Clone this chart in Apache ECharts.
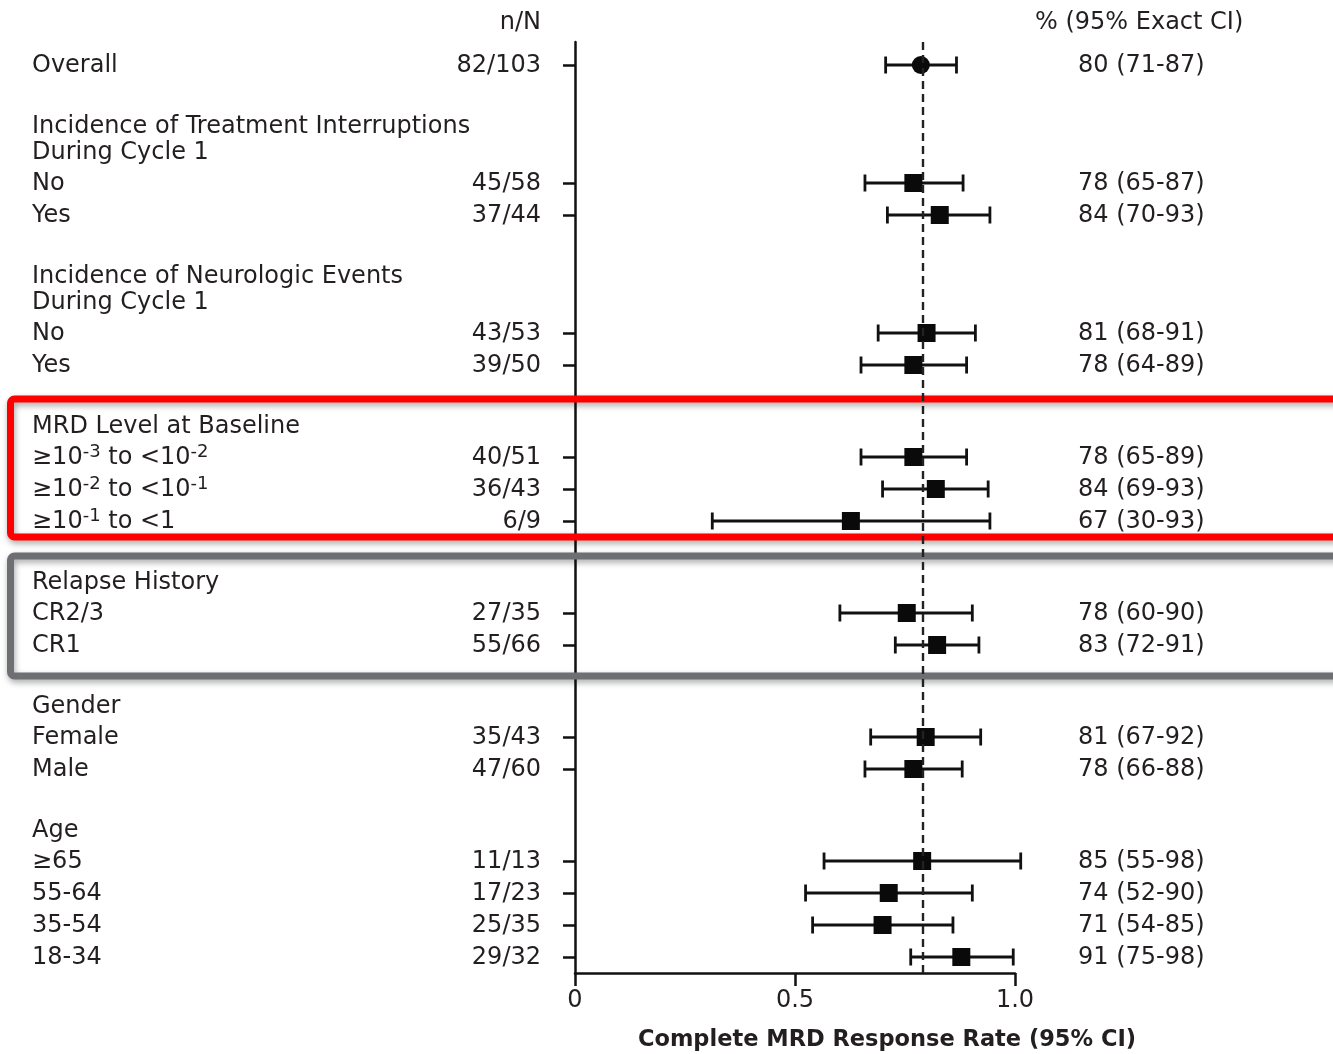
<!DOCTYPE html>
<html>
<head>
<meta charset="utf-8">
<script src="https://cdn.jsdelivr.net/npm/echarts@6/dist/echarts.min.js"></script>
<style>
  html, body { margin: 0; background: #fff; }
  #chart { width: 1333px; height: 1054px; }
</style>
</head>
<body>
<div id="chart"></div>
<script>
// group titles, one entry per group (the overall row has none)
const groupTitles = [
  [],
  ['Incidence of Treatment Interruptions', 'During Cycle 1'],
  ['Incidence of Neurologic Events', 'During Cycle 1'],
  ['MRD Level at Baseline'],
  ['Relapse History'],
  ['Gender'],
  ['Age']
];
const groupSizes = [1, 2, 2, 3, 2, 2, 4];

// "^" marks a superscript
const rowLabels = ['Overall', 'No', 'Yes', 'No', 'Yes',
  '≥10^-3 to <10^-2', '≥10^-2 to <10^-1', '≥10^-1 to <1',
  'CR2/3', 'CR1', 'Female', 'Male', '≥65', '55-64', '35-54', '18-34'];
const nOverN = ['82/103', '45/58', '37/44', '43/53', '39/50', '40/51', '36/43', '6/9',
  '27/35', '55/66', '35/43', '47/60', '11/13', '17/23', '25/35', '29/32'];
const pctCI = ['80 (71-87)', '78 (65-87)', '84 (70-93)', '81 (68-91)', '78 (64-89)',
  '78 (65-89)', '84 (69-93)', '67 (30-93)', '78 (60-90)', '83 (72-91)',
  '81 (67-92)', '78 (66-88)', '85 (55-98)', '74 (52-90)', '71 (54-85)', '91 (75-98)'];

// rates and interval ends as they are plotted in the figure
const rate   = [0.786, 0.769, 0.829, 0.799, 0.769, 0.769, 0.820, 0.627,
                0.754, 0.823, 0.797, 0.769, 0.789, 0.713, 0.699, 0.878];
const ciLow  = [0.706, 0.659, 0.710, 0.689, 0.650, 0.650, 0.699, 0.312,
                0.602, 0.728, 0.672, 0.659, 0.566, 0.524, 0.540, 0.763];
const ciHigh = [0.867, 0.882, 0.943, 0.910, 0.890, 0.890, 0.939, 0.943,
                0.903, 0.918, 0.922, 0.880, 1.013, 0.903, 0.859, 0.996];

const xTickLabels = ['0', '0.5', '1.0'];

const FONT = 'DejaVu Sans';
const INK = '#231f20';
const TEXT_DROP = 1; // DejaVu sits a little high when middle-aligned

// vertical layout (pixels below the top of the plot area)
const FIRST_ROW = 23, GROUP_GAP = 61, TITLE_STEP = 26, TITLE_TO_ROW = 31, ROW_STEP = 32;
const rowY = [], titleRows = [], groupSpan = [];
let cur = FIRST_ROW;
groupTitles.forEach((title, g) => {
  let top = cur;
  if (title.length) {
    cur += GROUP_GAP;
    top = cur;
    title.forEach((line, k) => {
      titleRows.push({ y: cur, text: line });
      cur += k < title.length - 1 ? TITLE_STEP : TITLE_TO_ROW;
    });
  }
  for (let k = 0; k < groupSizes[g]; k++) {
    rowY.push(cur);
    cur += ROW_STEP;
  }
  cur -= ROW_STEP;
  groupSpan.push({ top: top, bottom: cur });
});

const leftItems = titleRows.concat(rowLabels.map((t, i) => ({
  y: rowY[i], text: t.replace(/\^(\S+)/g, '{s|$1}')
})));
const countItems = nOverN.map((t, i) => ({ y: rowY[i], text: t }));
const rightItems = pctCI.map((t, i) => ({ y: rowY[i], text: t }));

function textSeries(items, x, align) {
  return {
    type: 'custom',
    silent: true,
    z: 3,
    data: items.map((it, i) => [0, it.y, i]),
    renderItem: (params, api) => {
      const it = items[api.value(2)];
      return {
        type: 'text',
        x: x,
        y: api.coord([0, api.value(1)])[1] + TEXT_DROP,
        style: {
          text: it.text,
          font: '24px "' + FONT + '"',
          fill: INK,
          align: align,
          verticalAlign: 'middle',
          lineHeight: 30,
          rich: {
            s: { fontSize: 18, fontFamily: FONT, fill: INK, lineHeight: 10, verticalAlign: 'top' }
          }
        }
      };
    }
  };
}

const chart = echarts.init(document.getElementById('chart'));

chart.setOption({
  backgroundColor: '#fff',
  animation: false,
  grid: { left: 575, right: 318, top: 42, bottom: 81, outerBoundsMode: 'none', containLabel: false },
  xAxis: {
    type: 'value',
    position: 'bottom',
    min: 0,
    max: 1,
    interval: 0.5,
    splitLine: { show: false },
    axisLine: { onZero: false, lineStyle: { color: '#111', width: 2.5 } },
    axisTick: { length: 13, lineStyle: { color: '#111', width: 2.5 } },
    axisLabel: {
      margin: 16,
      fontFamily: FONT,
      fontSize: 24,
      color: INK,
      formatter: v => xTickLabels[Math.round(v * 2)]
    },
    name: 'Complete MRD Response Rate (95% CI)',
    nameLocation: 'middle',
    nameGap: 56,
    nameTextStyle: {
      fontFamily: FONT,
      fontSize: 22.5,
      fontWeight: 'bold',
      color: INK,
      padding: [0, 0, 0, 184]
    }
  },
  yAxis: {
    type: 'value',
    inverse: true,
    min: 0,
    max: 931,
    splitLine: { show: false },
    axisLine: { show: true, onZero: false, lineStyle: { color: '#111', width: 2.5 } },
    axisTick: { show: true, length: 12, customValues: rowY, lineStyle: { color: '#111', width: 2.5 } },
    axisLabel: { show: false }
  },
  series: [
    {
      type: 'custom',
      name: 'CI',
      silent: true,
      clip: false,
      z: 2,
      data: rowY.map((y, i) => [ciLow[i], ciHigh[i], y]),
      renderItem: (params, api) => {
        const a = api.coord([api.value(0), api.value(2)]);
        const b = api.coord([api.value(1), api.value(2)]);
        const h = 8.5;
        const st = { stroke: '#111', lineWidth: 2.8 };
        return {
          type: 'group',
          children: [
            { type: 'line', shape: { x1: a[0], y1: a[1], x2: b[0], y2: b[1] }, style: st },
            { type: 'line', shape: { x1: a[0], y1: a[1] - h, x2: a[0], y2: a[1] + h }, style: st },
            { type: 'line', shape: { x1: b[0], y1: b[1] - h, x2: b[0], y2: b[1] + h }, style: st }
          ]
        };
      }
    },
    {
      type: 'scatter',
      name: 'Rate',
      silent: true,
      z: 4,
      symbolSize: 18,
      itemStyle: { color: '#0a0a0a', opacity: 1 },
      data: rowY.map((y, i) => ({ value: [rate[i], y], symbol: i === 0 ? 'circle' : 'rect' })),
      markLine: {
        silent: true,
        symbol: 'none',
        label: { show: false },
        lineStyle: { color: '#222', width: 2.4, type: [8, 5] },
        data: [{ xAxis: rate[0] }]
      }
    },
    textSeries(leftItems, 32, 'left'),
    textSeries(countItems, 541, 'right'),
    textSeries(rightItems, 1078, 'left')
  ]
});

// column headers and the two highlight boxes
const py = v => chart.convertToPixel({ yAxisIndex: 0 }, v);
function box(g, padTop, padBottom, color) {
  const y1 = py(groupSpan[g].top) - padTop;
  const y2 = py(groupSpan[g].bottom) + padBottom;
  return {
    type: 'rect',
    z: 1,
    silent: true,
    shape: { x: 10.5, y: y1, width: 1345, height: y2 - y1, r: 4 },
    style: {
      fill: 'none',
      stroke: color,
      lineWidth: 7,
      shadowBlur: 6,
      shadowOffsetY: 3,
      shadowOffsetX: 1,
      shadowColor: 'rgba(0,0,0,0.35)'
    }
  };
}
chart.setOption({
  graphic: [
    {
      type: 'text', x: 541, y: 22 + TEXT_DROP, silent: true,
      style: { text: 'n/N', font: '24px "' + FONT + '"', fill: INK, align: 'right', verticalAlign: 'middle' }
    },
    {
      type: 'text', x: 1035, y: 22 + TEXT_DROP, silent: true,
      style: { text: '% (95% Exact CI)', font: '24px "' + FONT + '"', fill: INK, align: 'left', verticalAlign: 'middle' }
    },
    box(3, 27, 16, '#ff0000'),
    box(4, 26, 31, '#6e6f73')
  ]
});
</script>
</body>
</html>
